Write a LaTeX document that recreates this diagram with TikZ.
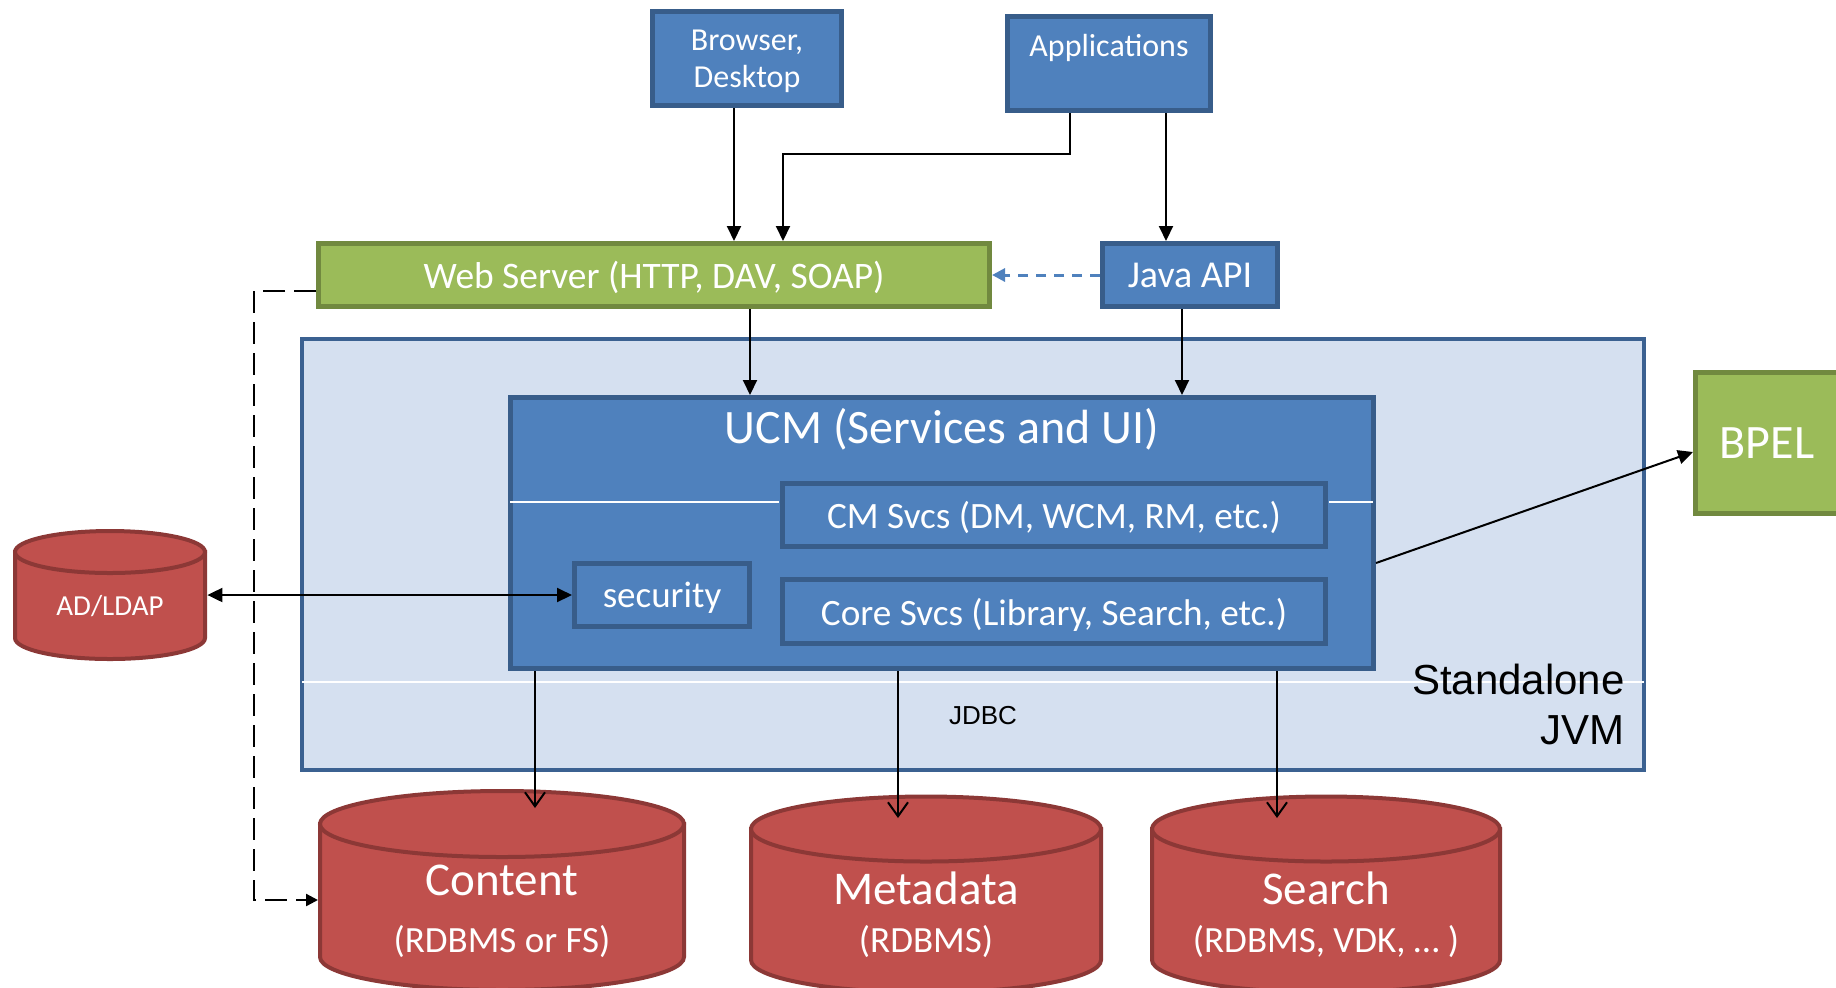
\documentclass[tikz,border=0pt]{standalone}
\usepackage{fontspec}
\setmainfont{Carlito}
\newfontfamily\arialf{Liberation Sans}
\usetikzlibrary{arrows.meta,calc}
\definecolor{bfill}{HTML}{4F81BD}
\definecolor{bline}{HTML}{385D8A}
\definecolor{gfill}{HTML}{9BBB59}
\definecolor{gline}{HTML}{71893F}
\definecolor{rfill}{HTML}{C0504D}
\definecolor{rline}{HTML}{8C3836}
\definecolor{jfill}{HTML}{D5E0F0}
\definecolor{jline}{HTML}{3B6191}
\newcommand\dbcyl[5]{%
  \filldraw[dbbody] (#1-#4,#2) -- (#1-#4,#3) arc[start angle=180,end angle=0,x radius=#4,y radius=#5] -- (#1+#4,#2) -- cycle;
  \filldraw[dbbody] (#1,#2) ellipse[x radius=#4,y radius=#5];}
\begin{document}
\begin{tikzpicture}[x=0.5pt,y=-0.5pt,
  bluebox/.style={draw=bline, fill=bfill, line width=2.5pt, text=white, inner sep=0pt, align=center, text depth=0pt},
  greenbox/.style={draw=gline, fill=gfill, line width=2.5pt, text=white, inner sep=0pt, align=center, text depth=0pt},
  jvmbox/.style={draw=jline, fill=jfill, line width=2pt, inner sep=0pt},
  flow/.style={line width=1pt, -{Triangle[length=7.5pt,width=7pt]}},
  flowboth/.style={line width=1pt, {Triangle[length=7.5pt,width=7pt]}-{Triangle[length=7.5pt,width=7pt]}},
  dbflow/.style={line width=1pt, -{Straight Barb[length=7pt,width=10pt]}},
  bdash/.style={draw=bfill, line width=1.5pt, dash pattern=on 5pt off 4pt, -{Triangle[length=6.5pt,width=6.5pt]}},
  kdash/.style={line width=1.2pt, dash pattern=on 11pt off 4.5pt, -{Triangle[length=6pt,width=6pt]}},
  dbbody/.style={fill=rfill, draw=rline, line width=2pt},
  dbtext/.style={text=white, inner sep=0pt},
  sheen/.style={draw=white, line width=0.6pt},
]
\useasboundingbox (0,0) rectangle (1836,987);

% Standalone JVM container
\node[jvmbox, minimum width=671pt, minimum height=215.5pt] (jvm) at (973,554.5) {};
\draw[sheen] (302,682) -- (1644,682);

% top boxes
\node[bluebox, minimum width=94.5pt, minimum height=47pt, font=\fontsize{16}{18.5}\selectfont] (browser) at (747,58.5) {Browser,\\Desktop};
\node[bluebox, minimum width=101.5pt, minimum height=47pt, font=\fontsize{16}{18.5}\selectfont] (apps) at (1109,63.5) {Applications\\\phantom{Desktop}};
\node[greenbox, minimum width=335.5pt, minimum height=31.5pt, font=\fontsize{18.7}{22}\selectfont] (web) at (654,275) {Web Server (HTTP, DAV, SOAP)};
\node[bluebox, minimum width=87.5pt, minimum height=31.5pt, font=\fontsize{19}{22}\selectfont] (java) at (1190,275) {Java API};

% UCM
\node[bluebox, minimum width=431.5pt, minimum height=135.5pt] (ucm) at (942,533) {};
\draw[sheen] (510,502) -- (779,502);
\draw[sheen] (1329,502) -- (1373,502);
\node[text=white, inner sep=0pt, font=\fontsize{24}{28}\selectfont] (ucmtitle) at (942,429) {UCM (Services and UI)};
\node[bluebox, minimum width=271.5pt, minimum height=31.5pt, font=\fontsize{18.6}{22}\selectfont] (cm) at (1054,515) {CM Svcs (DM, WCM, RM, etc.)};
\node[bluebox, minimum width=271.5pt, minimum height=32pt, font=\fontsize{18.6}{22}\selectfont] (core) at (1054,611.5) {Core Svcs (Library, Search, etc.)};
\node[bluebox, minimum width=87.5pt, minimum height=31.5pt, font=\fontsize{18.5}{22}\selectfont] (security) at (662,595) {security};

\node[anchor=east, align=right, inner sep=0pt, font=\arialf\fontsize{21}{25}\selectfont] (jvmlabel) at (1625,704) {Standalone\\JVM};
\node[inner sep=0pt, font=\arialf\fontsize{13}{15}\selectfont] (jdbc) at (983,716) {JDBC};

% BPEL
\node[greenbox, minimum width=71.5pt, minimum height=70.5pt, font=\fontsize{24}{28}\selectfont] (bpel) at (1767,443) {BPEL};

% data stores
\dbcyl{110}{552}{638}{95}{21}
\node[dbtext, minimum width=97pt, font=\fontsize{14.5}{17}\selectfont] (adldap) at (110,606) {AD/LDAP};

\dbcyl{502}{824}{957}{182}{33}
\node[dbtext, font=\fontsize{23.5}{28}\selectfont] (content) at (502,880) {Content};
\node[dbtext, font=\fontsize{18.5}{22}\selectfont] (contentsub) at (502,942) {(RDBMS or FS)};

\dbcyl{926}{829}{960}{175}{32.5}
\node[dbtext, font=\fontsize{23.5}{28}\selectfont] (metadata) at (926,888) {Metadata};
\node[dbtext, font=\fontsize{18.5}{22}\selectfont] (metadatasub) at (926,942) {(RDBMS)};

\dbcyl{1326}{829}{960}{174}{32.5}
\node[dbtext, font=\fontsize{23.5}{28}\selectfont] (search) at (1326,888) {Search};
\node[dbtext, font=\fontsize{18.5}{22}\selectfont] (searchsub) at (1326,942) {(RDBMS, VDK, … )};

\coordinate (contentin) at (535,808);
\coordinate (metadatain) at (898,818);
\coordinate (searchin) at (1277,818);
\coordinate (contentwest) at (318,900);

% connectors
\draw[flow] ([xshift=-6.5pt]browser.south) -- ([xshift=-6.5pt]browser.south |- web.north);
\draw[flow] ([xshift=-19.5pt]apps.south) -- ++(0,41) -| ([xshift=64.5pt]web.north);
\draw[flow] ([xshift=28.5pt]apps.south) -- ([xshift=28.5pt]apps.south |- java.north);
\draw[bdash] (java.west) -- (web.east);
\draw[flow] ([xshift=48pt]web.south) -- ([xshift=48pt]web.south |- ucm.north);
\draw[flow] ([xshift=-4pt]java.south) -- ([xshift=-4pt]java.south |- ucm.north);
\draw[flow] ([yshift=-15pt]ucm.east) -- ([yshift=-4.5pt]bpel.west);
\draw[flowboth] (security.west) -- (security.west -| adldap.east);
\draw[kdash] ([yshift=-8pt]web.west) -- ++(-62,0) |- (contentwest);
\draw[dbflow] (ucm.south -| contentin) -- (contentin);
\draw[dbflow] (ucm.south -| metadatain) -- (metadatain);
\draw[dbflow] (ucm.south -| searchin) -- (searchin);
\end{tikzpicture}
\end{document}
